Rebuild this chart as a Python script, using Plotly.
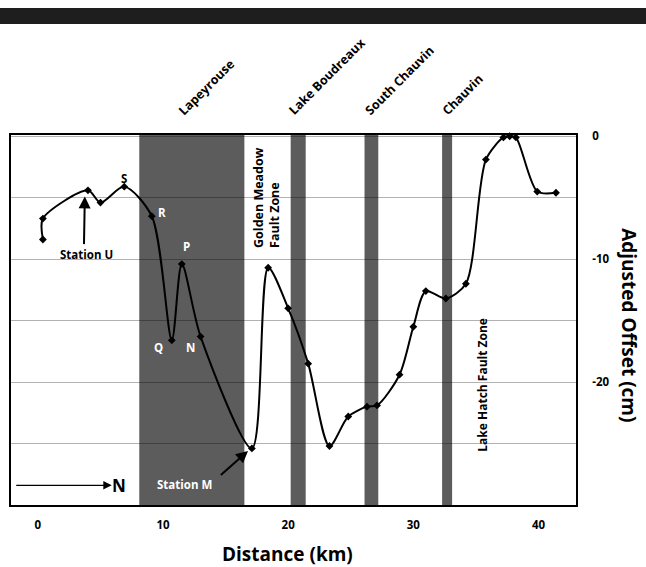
import plotly.graph_objects as go

# ---- data ----
distance_km = [0.4, 0.4, 4.0, 5.0, 6.9, 9.1, 10.7, 11.5, 13.0, 17.1, 18.4, 20.0, 21.6,
               23.3, 24.8, 26.3, 27.1, 28.9, 30.0, 31.0, 32.6, 34.2, 35.8, 37.2, 37.7,
               38.2, 39.9, 41.4]
offset_cm = [-8.4, -6.7, -4.4, -5.4, -4.1, -6.5, -16.6, -10.4, -16.3, -25.4, -10.7, -14.0,
             -18.5, -25.2, -22.8, -22.0, -21.9, -19.4, -15.5, -12.6, -13.2, -12.0, -1.9,
             -0.1, 0.0, -0.1, -4.5, -4.6]

band_names = ["Lapeyrouse", "Lake Boudreaux", "South Chauvin", "Chauvin"]
band_start = [8.1, 20.2, 26.1, 32.3]
band_end = [16.5, 21.4, 27.2, 33.1]

x_tick_vals = [0, 10, 20, 30, 40]
x_tick_text = ["0", "10", "20", "30", "40"]
y_tick_vals = [0, -5, -10, -15, -20, -25]
y_tick_text = ["0", "", "-10", "", "-20", ""]

FONT = "Open Sans"
BAND = "#5c5c5c"

fig = go.Figure()

fig.add_trace(go.Scatter(
    x=distance_km, y=offset_cm, mode="lines+markers",
    line=dict(color="black", width=2, shape="spline", smoothing=0.8),
    marker=dict(symbol="diamond", size=6, color="black"),
    cliponaxis=False, showlegend=False, hoverinfo="skip",
))

shapes = []
for s, e in zip(band_start, band_end):
    shapes.append(dict(type="rect", xref="x", yref="paper", x0=s, x1=e, y0=0, y1=1,
                       fillcolor=BAND, line=dict(width=0), layer="below"))
# black bar on top
shapes.append(dict(type="rect", xref="paper", yref="paper", x0=-0.02, x1=1.13,
                   y0=1.30, y1=1.343, fillcolor="#1e1e1e", line=dict(width=0)))

ann = []
# rotated band labels
label_x = {"Lapeyrouse": 10.7, "Lake Boudreaux": 19.5, "South Chauvin": 25.6, "Chauvin": 31.8}
for name in band_names:
    ann.append(dict(x=label_x[name], y=1.037, xref="x", yref="paper", text=name,
                    textangle=-45, showarrow=False, xanchor="left", yanchor="bottom",
                    font=dict(family=FONT, size=12.5, color="black", weight="bold")))

ann.append(dict(x=18.25, y=-5.0, xref="x", yref="y", text="Golden Meadow<br>Fault Zone",
                textangle=-90, showarrow=False, align="left",
                font=dict(family=FONT, size=12.5, color="black", weight="bold")))
ann.append(dict(x=35.5, y=-20.2, xref="x", yref="y", text="Lake Hatch Fault Zone",
                textangle=-90, showarrow=False,
                font=dict(family=FONT, size=12, color="black", weight="bold")))

# point letters
for txt, x, y, c in [("S", 6.9, -3.4, "black"), ("R", 9.9, -6.2, "white"),
                     ("P", 11.9, -9.0, "white"), ("Q", 9.6, -17.2, "white"),
                     ("N", 12.2, -17.2, "white")]:
    ann.append(dict(x=x, y=y, text=txt, showarrow=False,
                    font=dict(family=FONT, size=11.5, color=c, weight="bold")))

# Station U
ann.append(dict(x=3.9, y=-9.6, text="Station U", showarrow=False,
                font=dict(family=FONT, size=11.5, color="black", weight="bold")))
ann.append(dict(x=3.75, y=-4.9, ax=3.68, ay=-8.9, axref="x", ayref="y", text="",
                showarrow=True, arrowhead=2, arrowsize=1.2, arrowwidth=2, arrowcolor="black"))
# Station M
ann.append(dict(x=11.7, y=-28.3, text="Station M", showarrow=False,
                font=dict(family=FONT, size=11.5, color="white", weight="bold")))
ann.append(dict(x=16.79, y=-25.6, ax=14.5, ay=-27.66, axref="x", ayref="y", text="",
                showarrow=True, arrowhead=2, arrowsize=1.2, arrowwidth=2, arrowcolor="black"))
# North arrow
ann.append(dict(x=5.9, y=-28.4, ax=-1.85, ay=-28.4, axref="x", ayref="y", text="",
                showarrow=True, arrowhead=2, arrowsize=1.3, arrowwidth=1.3, arrowcolor="black"))
ann.append(dict(x=6.5, y=-28.4, text="N", showarrow=False,
                font=dict(family=FONT, size=17, color="black", weight="bold")))

# axis titles
ann.append(dict(x=0.49, y=-0.1324, xref="paper", yref="paper", text="Distance (km)",
                showarrow=False, yanchor="middle",
                font=dict(family=FONT, size=19, color="black", weight="bold")))
ann.append(dict(x=1.121, y=0.485, xref="paper", yref="paper", text="Adjusted Offset (cm)",
                showarrow=False, textangle=90, xanchor="right",
                font=dict(family=FONT, size=19, color="black", weight="bold")))

fig.update_layout(
    width=646, height=567,
    margin=dict(l=9, r=70, t=135, b=62),
    paper_bgcolor="white", plot_bgcolor="white",
    shapes=shapes, annotations=ann,
    xaxis=dict(range=[-2.15, 43.0], tickvals=x_tick_vals, ticktext=x_tick_text,
               showgrid=False, zeroline=False, showline=True, mirror=True,
               linecolor="black", linewidth=2, ticks="", ticklabelstandoff=8,
               tickfont=dict(family=FONT, size=11.5, color="black", weight="bold")),
    yaxis=dict(range=[-30, 0.1], side="right", tickvals=y_tick_vals, ticktext=y_tick_text,
               showgrid=True, gridcolor="rgba(0,0,0,0.3)", gridwidth=1,
               zeroline=False, showline=True, mirror=True,
               linecolor="black", linewidth=2, ticks="", ticklabelstandoff=12,
               tickfont=dict(family=FONT, size=11.5, color="black", weight="bold")),
)

fig.write_html("out.html", config={"displayModeBar": False},
               post_script="document.body.style.margin='0px';")
